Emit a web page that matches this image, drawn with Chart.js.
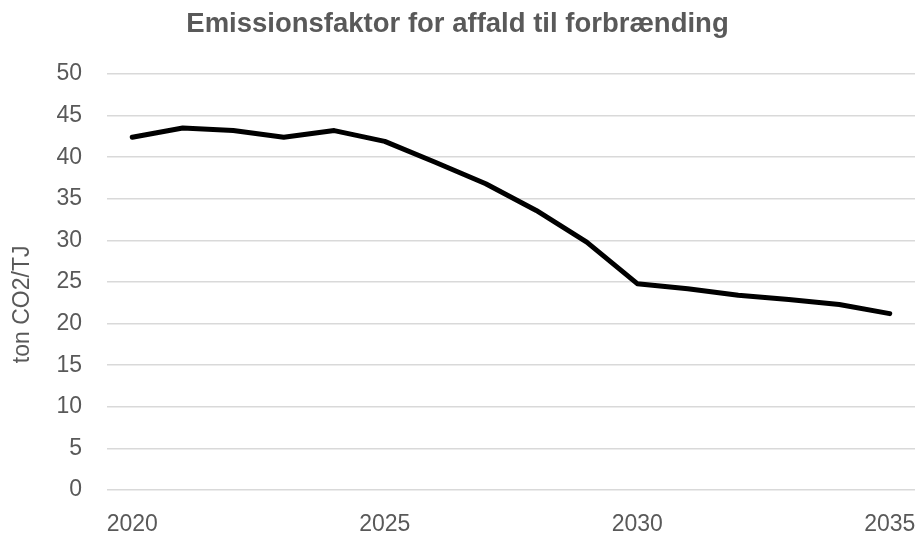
<!DOCTYPE html>
<html>
<head>
<meta charset="utf-8">
<script src="https://cdn.jsdelivr.net/npm/chart.js@4/dist/chart.umd.min.js"></script>
<style>
  html, body { margin: 0; padding: 0; background: #ffffff; }
  #wrap { width: 916px; height: 537px; }
</style>
</head>
<body>
<div id="wrap"><canvas id="chart" width="916" height="537"></canvas></div>
<script>
// Emission factor for waste incineration, ton CO2 per TJ
const years = ['2020','2021','2022','2023','2024','2025','2026','2027',
               '2028','2029','2030','2031','2032','2033','2034','2035'];
const emissionFactor = [42.4, 43.5, 43.2, 42.4, 43.2, 41.9, 39.4, 36.8,
                        33.6, 29.8, 24.8, 24.2, 23.4, 22.9, 22.3, 21.2];
const yTicks = [0, 5, 10, 15, 20, 25, 30, 35, 40, 45, 50];
const labeledYears = ['2020', '2025', '2030', '2035'];

const chartTitle = 'Emissionsfaktor for affald til forbrænding';
const yAxisTitle = 'ton CO2/TJ';

const textGrey = '#595959';
const gridGrey = '#d9d9d9';
const fontFamily = '"Liberation Sans", Arial, sans-serif';

new Chart(document.getElementById('chart'), {
  type: 'line',
  data: {
    labels: years,
    datasets: [{
      data: emissionFactor,
      borderColor: '#000000',
      borderWidth: 5,
      pointRadius: 0,
      tension: 0,
      fill: false,
      borderCapStyle: 'round',
      borderJoinStyle: 'round'
    }]
  },
  options: {
    responsive: false,
    animation: false,
    layout: { padding: { left: 0, right: 1, top: 8, bottom: 0 } },
    plugins: {
      legend: { display: false },
      tooltip: { enabled: false },
      title: {
        display: true,
        text: chartTitle,
        color: textGrey,
        font: { family: fontFamily, size: 27.5, weight: 'bold' },
        padding: { top: 0, bottom: 33 }
      }
    },
    scales: {
      x: {
        type: 'category',
        offset: true,
        grid: { display: false },
        border: { display: false },
        afterFit: (scale) => {
          scale.height = 47;
          scale.paddingLeft = 0;
          scale.paddingRight = 0;
        },
        ticks: {
          autoSkip: false,
          maxRotation: 0,
          color: textGrey,
          padding: 13,
          font: { family: fontFamily, size: 23 },
          callback: function (value) {
            const lbl = this.getLabelForValue(value);
            return labeledYears.includes(lbl) ? lbl : '';
          }
        }
      },
      y: {
        min: 0,
        max: 50,
        afterBuildTicks: (scale) => { scale.ticks = yTicks.map(v => ({ value: v })); },
        afterFit: (scale) => { scale.width = 107; },
        grid: { color: gridGrey, lineWidth: 1.5, drawTicks: false },
        border: { display: false },
        ticks: {
          color: textGrey,
          padding: 25,
          font: { family: fontFamily, size: 23 }
        },
        title: {
          display: true,
          // trailing spaces lower the rotated label slightly below the axis middle
          text: yAxisTitle + '       ',
          color: textGrey,
          font: { family: fontFamily, size: 23 },
          padding: { top: 9, bottom: 0 }
        }
      }
    }
  }
});
</script>
</body>
</html>
